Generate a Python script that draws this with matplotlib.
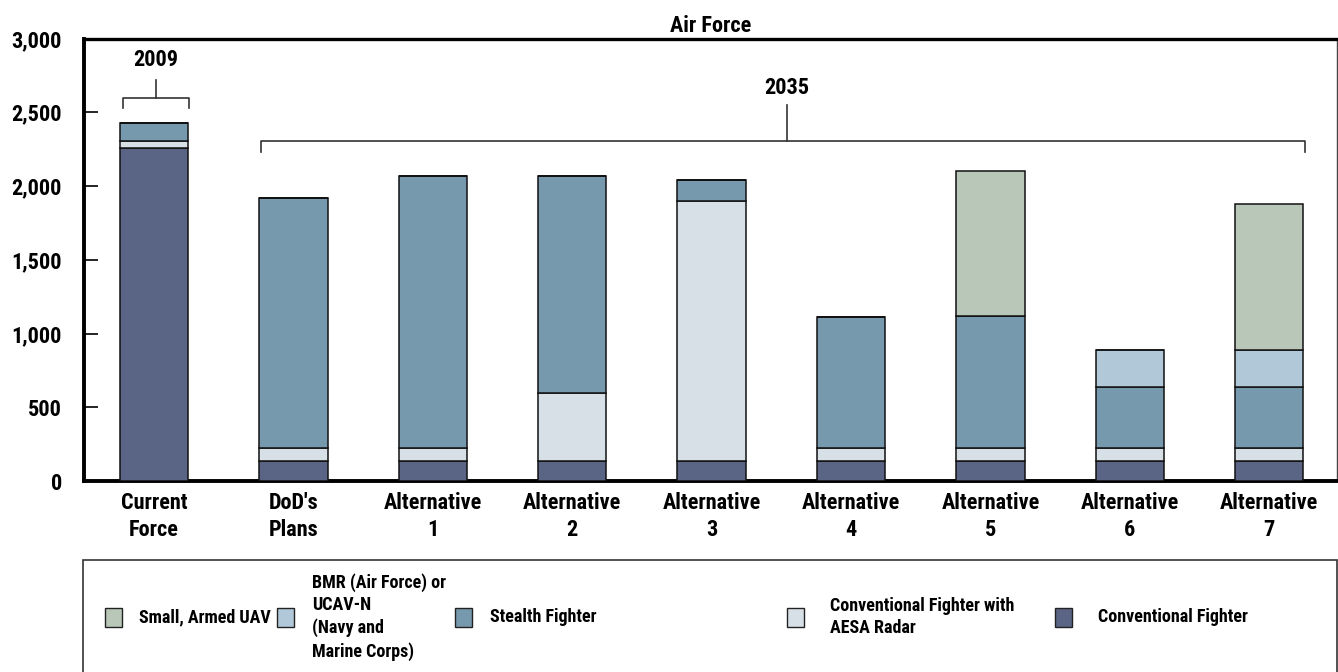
import matplotlib
matplotlib.use("Agg")
import matplotlib.pyplot as plt
from matplotlib.patches import Rectangle
from matplotlib import font_manager
import numpy as np

categories = ["Current\nForce", "DoD's\nPlans", "Alternative\n1", "Alternative\n2", "Alternative\n3",
              "Alternative\n4", "Alternative\n5", "Alternative\n6", "Alternative\n7"]

conventional = [2260, 135, 135, 135, 135, 135, 135, 135, 135]
aesa         = [45,   90,  90,  460, 1765, 90, 90,  90,  90]
stealth      = [120, 1695, 1845, 1470, 140, 890, 895, 410, 410]
bmr          = [0,    0,   0,   0,   0,   0,   0,   250, 250]
uav          = [0,    0,   0,   0,   0,   0,   985, 0,   995]

series_names = ["Conventional Fighter", "Conventional Fighter with\nAESA Radar", "Stealth Fighter",
                "BMR (Air Force) or\nUCAV-N\n(Navy and\nMarine Corps)", "Small, Armed UAV"]
series_vals = [conventional, aesa, stealth, bmr, uav]
colors = ["#5A6485", "#D8E0E7", "#7799AE", "#B0C8D8", "#B9C7B9"]

yticks = [0, 500, 1000, 1500, 2000, 2500, 3000]
ytick_labels = ["0", "500", "1,000", "1,500", "2,000", "2,500", "3,000"]

# pick a narrow font if available
avail = {f.name for f in font_manager.fontManager.ttflist}
chosen = None
for cand in ['Liberation Sans Narrow', 'DejaVu Sans Condensed', 'Roboto Condensed',
             'Open Sans Condensed', 'Noto Sans Condensed', 'Liberation Sans']:
    if cand in avail:
        chosen = cand
        break
if chosen is None:
    chosen = 'DejaVu Sans'
plt.rcParams['font.family'] = [chosen, 'DejaVu Sans']
plt.rcParams['font.weight'] = 'bold'
narrow = chosen not in ('Liberation Sans', 'DejaVu Sans')
fs = 16 if narrow else 13.5
lfs = 13 if narrow else 11

fig = plt.figure(figsize=(13.38, 6.72), dpi=100)
ax = fig.add_axes([84/1338, 1-481/672, (1337-84)/1338, (481-38.5)/672])

x = np.arange(len(categories))
bottom = np.zeros(len(categories))
for vals, col in zip(series_vals, colors):
    v = np.array(vals, dtype=float)
    ax.bar(x, v, bottom=bottom, width=0.49, color=col, edgecolor="#111111", linewidth=1.1, zorder=3)
    bottom += v

ax.set_xlim(-0.502, 8.486)
ax.set_ylim(0, 3000)
ax.set_yticks(yticks)
ax.set_yticklabels(ytick_labels, fontsize=fs, fontweight='bold')
ax.tick_params(axis='y', direction='in', length=10, width=1.2, pad=16, colors='black')
ax.set_xticks(x)
ax.set_xticklabels(categories, fontsize=fs, fontweight='bold', linespacing=1.3)
ax.tick_params(axis='x', length=0, pad=8)

for s in ['left', 'bottom']:
    ax.spines[s].set_linewidth(2.8)
    ax.spines[s].set_color('black')
ax.spines['top'].set_linewidth(2.4)
ax.spines['top'].set_color('black')
ax.spines['right'].set_linewidth(1.0)
ax.spines['right'].set_color('#444444')

ax.set_title("Air Force", fontsize=fs, fontweight='bold', pad=5)

# Brackets
lc = '#333333'
ax.plot([-0.22, -0.22, 0.25, 0.25], [2530, 2597, 2597, 2530], color=lc, lw=1.2, clip_on=False)
ax.plot([0.016, 0.016], [2597, 2720], color=lc, lw=1.2, clip_on=False)
ax.text(0.016, 2855, "2009", ha='center', va='center', fontsize=fs, fontweight='bold')
ax.plot([0.77, 0.77, 8.26, 8.26], [2230, 2305, 2305, 2230], color=lc, lw=1.2, clip_on=False)
ax.plot([4.54, 4.54], [2305, 2550], color=lc, lw=1.2, clip_on=False)
ax.text(4.54, 2665, "2035", ha='center', va='center', fontsize=fs, fontweight='bold')

# Legend box
W, H = 1338, 672
fig.patches.append(Rectangle((83/W, -0.05), (1337-83)/W, 0.05 + 1-560/H, transform=fig.transFigure,
                             fill=False, edgecolor='#333333', linewidth=1.2))
legend_order = [4, 3, 2, 1, 0]
patch_x = [105, 277, 455, 787, 1055]
text_x = [139, 312, 490, 830, 1098]
ycen = 617
for i, px, tx in zip(legend_order, patch_x, text_x):
    fig.patches.append(Rectangle((px/W, 1-(ycen+9.5)/H), 17/W, 19/H, transform=fig.transFigure,
                                 facecolor=colors[i], edgecolor='#222222', linewidth=1.0))
    fig.text(tx/W, 1-ycen/H, series_names[i], ha='left', va='center', fontsize=lfs,
             fontweight='bold', linespacing=1.3)

fig.savefig("out.png", dpi=100)
